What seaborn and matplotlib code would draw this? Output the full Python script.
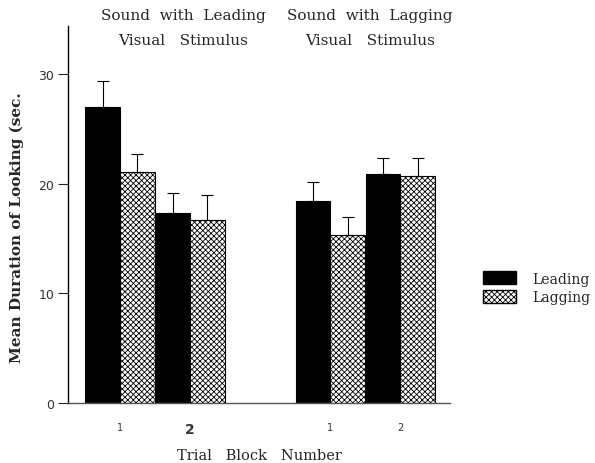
import matplotlib
matplotlib.use("Agg")
import matplotlib.pyplot as plt
import seaborn as sns
import pandas as pd
import numpy as np
from matplotlib.patches import Patch

# ---- data ----
slots = ["lead-1", "lead-2", "lag-1", "lag-2"]          # condition / trial block
slot_order = ["lead-1", "lead-2", "gap", "lag-1", "lag-2"]
tick_labels = ["1", "2", "", "1", "2"]
series = ["Leading", "Lagging"]
leading_vals = [27.0, 17.3, 18.4, 20.9]
lagging_vals = [21.1, 16.7, 15.3, 20.7]
leading_err = [2.4, 1.9, 1.8, 1.5]
lagging_err = [1.6, 2.3, 1.7, 1.7]
title_line1 = ["Sound  with  Leading", "Sound  with  Lagging"]
title_line2 = ["Visual   Stimulus", "Visual   Stimulus"]

rows = []
for s, v, e in zip(slots, leading_vals, leading_err):
    rows.append(dict(slot=s, series="Leading", value=v, err=e))
for s, v, e in zip(slots, lagging_vals, lagging_err):
    rows.append(dict(slot=s, series="Lagging", value=v, err=e))
df = pd.DataFrame(rows)

sns.set_style("white")
plt.rcParams["font.family"] = ["DejaVu Serif"]
plt.rcParams["hatch.linewidth"] = 0.6

W, H = 595, 464
fig = plt.figure(figsize=(W / 100, H / 100), dpi=100)
ax = fig.add_axes([68 / W, 1 - 404 / H, (450 - 68) / W, (404 - 27) / H])

palette = {"Leading": "black", "Lagging": "white"}
sns.barplot(data=df, x="slot", y="value", hue="series", order=slot_order,
            hue_order=series, palette=palette, width=0.99, errorbar=None,
            edgecolor="black", linewidth=0.8, ax=ax, legend=False, saturation=1)

# hatching + error bars
for cont, name in zip(ax.containers, series):
    sub = df[df.series == name].set_index("slot")
    xs, hs, es = [], [], []
    for b in cont:
        xc = b.get_x() + b.get_width() / 2
        s = slot_order[int(round(xc))]
        if s not in sub.index:
            continue
        if name == "Lagging":
            b.set_hatch("xxxxxx")
            b.set_facecolor("white")
        xs.append(xc)
        hs.append(sub.loc[s, "value"])
        es.append(sub.loc[s, "err"])
    ax.errorbar(xs, hs, yerr=[np.zeros(len(hs)), es], fmt="none",
                ecolor="black", elinewidth=0.8, capsize=4, capthick=0.8)

ax.set_xlim(-0.743, 4.71)
ax.set_ylim(0, 34.4)
ax.set_yticks([0, 10, 20, 30])
ax.set_yticklabels(["0", "10", "20", "30"], family="DejaVu Sans", color="#333333", fontsize=9)
ax.set_xticks(range(len(slot_order)))
ax.set_xticklabels(tick_labels, family="DejaVu Sans", fontsize=7, color="#333333")
lbls = ax.get_xticklabels()
lbls[1].set_fontsize(10)
lbls[1].set_fontweight("bold")
ax.tick_params(axis="x", length=0, pad=14)
ax.tick_params(axis="y", length=7, width=0.8, direction="out", left=True, pad=3)
for sp in ["top", "right"]:
    ax.spines[sp].set_visible(False)
ax.spines["left"].set_color("black")
ax.spines["left"].set_linewidth(1.0)
ax.spines["bottom"].set_color("#555555")
ax.spines["bottom"].set_linewidth(1.0)

ax.set_xlabel("Trial   Block   Number", fontsize=10.5, labelpad=8)
ax.set_ylabel("Mean Duration of Looking (sec.", fontsize=11, fontweight="bold")
ax.yaxis.set_label_coords(-0.115, 0.467)

# group titles (figure pixel positions)
for xc, t1, t2 in zip([183, 370], title_line1, title_line2):
    fig.text(xc / W, 1 - 16 / H, t1, ha="center", va="center", fontsize=11)
    fig.text(xc / W, 1 - 41 / H, t2, ha="center", va="center", fontsize=11)

handles = [Patch(facecolor="black", edgecolor="black", label="Leading"),
           Patch(facecolor="white", edgecolor="black", hatch="xxxxxx", label="Lagging")]
fig.legend(handles=handles, loc="center left", bbox_to_anchor=(0.795, 0.378),
           frameon=False, fontsize=10, handlelength=2.4, handleheight=1.1,
           labelspacing=0.3, handletextpad=1.2, borderpad=0.2)

fig.savefig("out.png", dpi=100)
